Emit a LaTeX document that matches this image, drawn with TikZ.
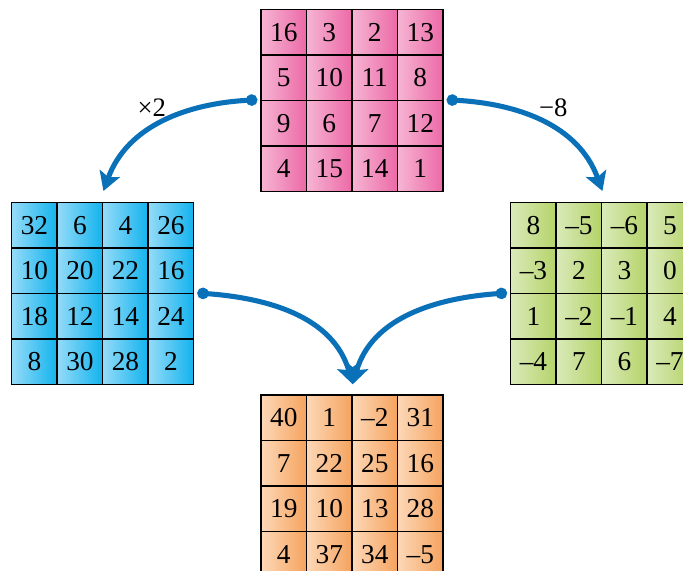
\documentclass[tikz,border=0pt]{standalone}
\usepackage{fontspec}
\setmainfont{Liberation Serif}
\usepackage{tikz}
\usetikzlibrary{arrows.meta}
\usetikzlibrary{positioning}

\definecolor{pinkL}{HTML}{F6B5D3}
\definecolor{pinkD}{HTML}{EC69A7}
\definecolor{blueL}{HTML}{95DBF8}
\definecolor{blueD}{HTML}{12B3EE}
\definecolor{greenL}{HTML}{DAEABA}
\definecolor{greenD}{HTML}{B4D368}
\definecolor{orangeL}{HTML}{FDD8B8}
\definecolor{orangeD}{HTML}{F5A35E}
\definecolor{arrowblue}{HTML}{0A70B8}

\tikzset{
  cell/.style={draw=black, line width=1.1pt, minimum size=34.1pt, inner sep=0pt,
    font=\fontsize{20.5}{24}\selectfont},
  flow/.style={draw=arrowblue, line width=3.8pt,
    {Circle[length=8.5pt]}-{Stealth[length=14pt,width=16pt,inset=3pt]}},
  lbl/.style={font=\fontsize{20}{24}\selectfont},
}

\begin{document}
\begin{tikzpicture}[x=0.75pt,y=0.75pt]
    \useasboundingbox (0,0) rectangle (683,571);
    \clip (0,0) rectangle (683,571);

    \foreach \g/\gx/\gy/\lc/\dc/\vals in {
      t/261/561.5/pinkL/pinkD/{16,3,2,13,5,10,11,8,9,6,7,12,4,15,14,1},
      l/11.7/368.3/blueL/blueD/{32,6,4,26,10,20,22,16,18,12,14,24,8,30,28,2},
      r/510.7/368.3/greenL/greenD/{8,--5,--6,5,--3,2,3,0,1,--2,--1,4,--4,7,6,--7},
      b/261/176/orangeL/orangeD/{40,1,--2,31,7,22,25,16,19,10,13,28,4,37,34,--5}}{
    \foreach \v [count=\i from 0] in \vals{
    \pgfmathsetmacro{\cx}{\gx+22.75+45.5*mod(\i,4)}
    \pgfmathsetmacro{\cy}{\gy-22.75-45.5*div(\i,4)}
    \node[cell, left color=\lc, right color=\dc] (\g\i) at (\cx,\cy) {\v};
    }
    }

    \draw[flow] ([xshift=-2.2pt]t8.north west) to[out=183,in=70] ([yshift=8.2pt]l1.north east);
    \draw[flow] ([xshift=2.2pt]t11.north east) to[out=-3,in=110] ([yshift=8.2pt]r1.north east);
    \draw[flow] ([xshift=2.2pt]l11.north east) to[out=-4,in=106] ([yshift=7.5pt]b1.north east);
    \draw[flow] ([xshift=-2.2pt]r8.north west) to[out=184,in=74] ([yshift=7.5pt]b1.north east);

    \node[lbl] (times) at (151.7,463.7) {×2};
    \node[lbl] (minus) at (553.3,463.7) {−8};
\end{tikzpicture}
\end{document}
